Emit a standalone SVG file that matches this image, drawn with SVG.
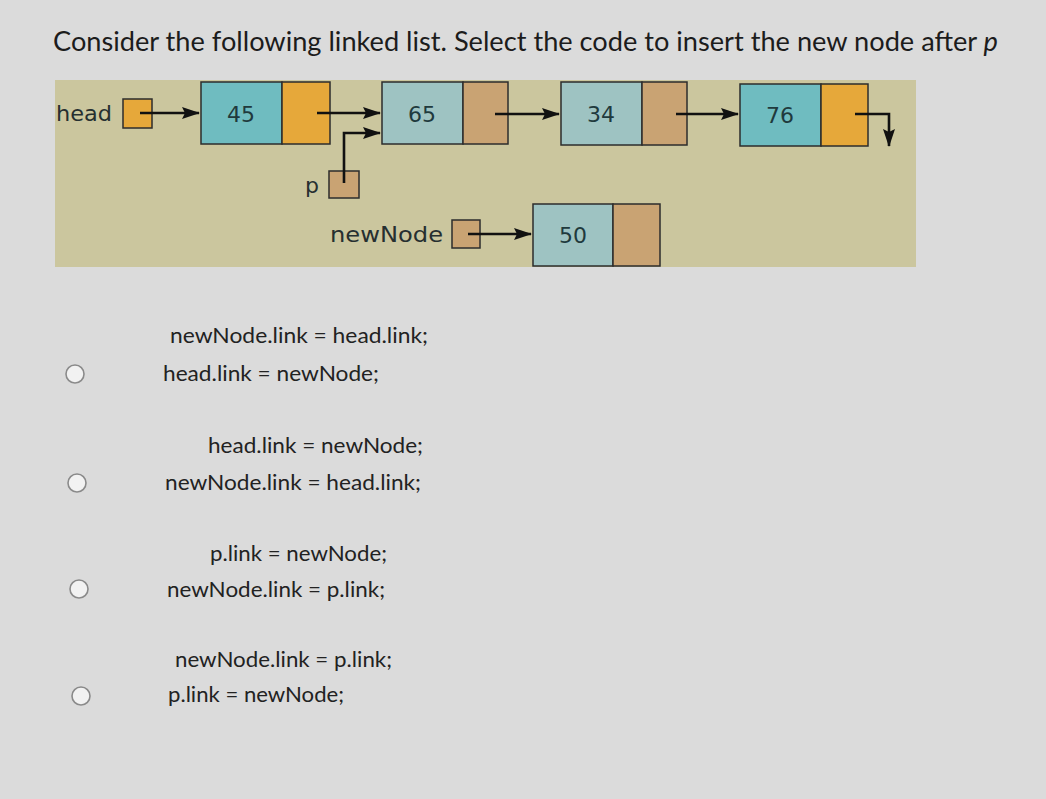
<svg xmlns="http://www.w3.org/2000/svg" width="1046" height="799" viewBox="0 0 1046 799">
<style>
.title{font-family:Lato,"Open Sans",sans-serif;font-size:27px;fill:#1c1c1c}
.code{font-family:Lato,"Open Sans",sans-serif;font-size:21px;fill:#222}
.lbl{font-family:"DejaVu Sans",sans-serif;font-size:22px;fill:#262f30}
.num{font-family:"DejaVu Sans",sans-serif;font-size:22px;fill:#1f3a3d;text-anchor:middle}
.b{stroke:#2d2d2d;stroke-width:1.5}
.t1{fill:#6fbcc0}.t2{fill:#9ec3c2}
.o1{fill:#e6a83a}.o2{fill:#c9a373}
.radio{fill:#f2f2f2;stroke:#8a8a8a;stroke-width:1.6}
.conn path{fill:none;stroke:#111;stroke-width:2.6}
</style>
<defs>
<marker id="ah" viewBox="0 0 18 12" refX="17" refY="6" markerWidth="18" markerHeight="12" markerUnits="userSpaceOnUse" orient="auto">
<path d="M0,0 L18,6 L0,12 L3,6 Z" fill="#111"/>
</marker>
</defs>
<rect x="0" y="0" width="1046" height="799" fill="#dbdbdb"/>
<text class="title" x="53" y="51" textLength="945" lengthAdjust="spacingAndGlyphs">Consider the following linked list. Select the code to insert the new node after <tspan font-style="italic">p</tspan></text>
<rect x="55" y="80" width="861" height="187" fill="#cbc69e"/>
<g id="head">
<text class="lbl" x="56" y="121" textLength="56" lengthAdjust="spacingAndGlyphs">head</text>
<rect class="b o1" x="123" y="99" width="29" height="29"/>
</g>
<g id="n45">
<rect class="b t1" x="201" y="82" width="81" height="62"/>
<rect class="b o1" x="282" y="82" width="48" height="62"/>
<text class="num" x="241" y="122">45</text>
</g>
<g id="n65">
<rect class="b t2" x="382" y="82" width="81" height="62"/>
<rect class="b o2" x="463" y="82" width="45" height="62"/>
<text class="num" x="422" y="122">65</text>
</g>
<g id="n34">
<rect class="b t2" x="561" y="82" width="81" height="63"/>
<rect class="b o2" x="642" y="82" width="45" height="63"/>
<text class="num" x="601" y="122">34</text>
</g>
<g id="n76">
<rect class="b t1" x="740" y="84" width="81" height="62"/>
<rect class="b o1" x="821" y="84" width="47" height="62"/>
<text class="num" x="780" y="123">76</text>
</g>
<g id="p">
<text class="lbl" x="305" y="193">p</text>
<rect class="b o2" x="329" y="171" width="30" height="27"/>
</g>
<g id="newNode">
<text class="lbl" x="330" y="242" textLength="113" lengthAdjust="spacingAndGlyphs">newNode</text>
<rect class="b o2" x="452" y="220" width="28" height="28"/>
</g>
<g id="n50">
<rect class="b t2" x="533" y="204" width="80" height="62"/>
<rect class="b o2" x="613" y="204" width="47" height="62"/>
<text class="num" x="573" y="243">50</text>
</g>
<g class="conn" id="connectors">
<path d="M140,113 H199" marker-end="url(#ah)"/>
<path d="M317,113 H380" marker-end="url(#ah)"/>
<path d="M344,183 V133 H380" marker-end="url(#ah)"/>
<path d="M495,114 H559" marker-end="url(#ah)"/>
<path d="M676,114 H738" marker-end="url(#ah)"/>
<path d="M855,114 H889 V146" marker-end="url(#ah)"/>
<path d="M468,234 H531" marker-end="url(#ah)"/>
</g>
<g id="options">
<circle class="radio" cx="75" cy="374" r="9"/>
<circle class="radio" cx="77" cy="483" r="9"/>
<circle class="radio" cx="79" cy="589" r="9"/>
<circle class="radio" cx="81" cy="696" r="9"/>
<text class="code" x="170" y="343" textLength="258" lengthAdjust="spacingAndGlyphs">newNode.link = head.link;</text>
<text class="code" x="163" y="381" textLength="216" lengthAdjust="spacingAndGlyphs">head.link = newNode;</text>
<text class="code" x="208" y="453" textLength="215" lengthAdjust="spacingAndGlyphs">head.link = newNode;</text>
<text class="code" x="165" y="490" textLength="256" lengthAdjust="spacingAndGlyphs">newNode.link = head.link;</text>
<text class="code" x="210" y="561" textLength="177" lengthAdjust="spacingAndGlyphs">p.link = newNode;</text>
<text class="code" x="167" y="597" textLength="218" lengthAdjust="spacingAndGlyphs">newNode.link = p.link;</text>
<text class="code" x="175" y="667" textLength="217" lengthAdjust="spacingAndGlyphs">newNode.link = p.link;</text>
<text class="code" x="168" y="702" textLength="176" lengthAdjust="spacingAndGlyphs">p.link = newNode;</text>
</g>
</svg>
